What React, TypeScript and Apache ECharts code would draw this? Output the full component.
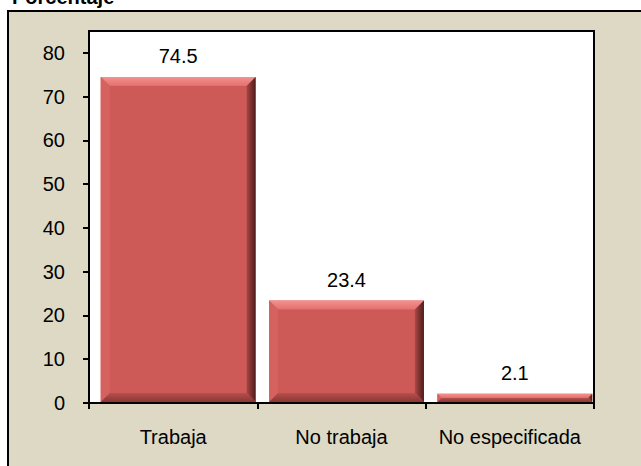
import React, { useEffect, useRef } from "react";
import * as echarts from "echarts";

const categories = ["Trabaja", "No trabaja", "No especificada"];
const values = [74.5, 23.4, 2.1];
const yTicks = [0, 10, 20, 30, 40, 50, 60, 70, 80];
const titleText = "Porcentaje";

const FONT = "'Liberation Sans', Arial, sans-serif";

export default function App() {
  const ref = useRef<HTMLDivElement>(null);
  useEffect(() => {
    if (!ref.current) return;
    const chart = echarts.init(ref.current, null, { renderer: "svg" });
    const renderItem = (params: any, api: any) => {
      const i = api.value(0);
      const v = api.value(1);
      const top = api.coord([i, v]);
      const base = api.coord([i, 0]);
      const w = api.size([1, 0])[0] * 0.92;
      const cx = top[0] + 5;
      const x0 = cx - w / 2;
      const x1 = cx + w / 2;
      const y0 = top[1];
      const y1 = base[1] - 1;
      const b = Math.min(9, (y1 - y0) / 2);
      return {
        type: "group",
        children: [
          { type: "rect", shape: { x: x0, y: y0, width: w, height: y1 - y0 }, style: { fill: "#CD5A57" } },
          {
            type: "polygon",
            shape: { points: [[x0, y0], [x1, y0], [x1 - b, y0 + b], [x0 + b, y0 + b]] },
            style: {
              fill: new echarts.graphic.LinearGradient(0, 0, 0, 1, [
                { offset: 0, color: "#F5918E" },
                { offset: 1, color: "#E2706D" },
              ]),
            },
          },
          {
            type: "polygon",
            shape: { points: [[x0, y0], [x0 + b, y0 + b], [x0 + b, y1 - b], [x0, y1]] },
            style: { fill: "#D6625F" },
          },
          {
            type: "polygon",
            shape: { points: [[x1, y0], [x1, y1], [x1 - b, y1 - b], [x1 - b, y0 + b]] },
            style: {
              fill: new echarts.graphic.LinearGradient(0, 0, 1, 0, [
                { offset: 0, color: "#A94744" },
                { offset: 1, color: "#4E1C1B" },
              ]),
            },
          },
          {
            type: "polygon",
            shape: { points: [[x0, y1], [x1, y1], [x1 - b, y1 - b], [x0 + b, y1 - b]] },
            style: {
              fill: new echarts.graphic.LinearGradient(0, 0, 0, 1, [
                { offset: 0, color: "#B5504D" },
                { offset: 1, color: "#8A3533" },
              ]),
            },
          },
          {
            type: "text",
            style: {
              text: String(v),
              x: cx,
              y: y0 - 21,
              align: "center",
              verticalAlign: "middle",
              fill: "#000",
              font: `20px ${FONT}`,
            },
          },
        ],
      };
    };
    chart.setOption({
      animation: false,
      backgroundColor: "#fff",
      graphic: [
        {
          type: "rect",
          shape: { x: 8, y: 11, width: 700, height: 600 },
          style: { fill: "#DDD9C4", stroke: "#000", lineWidth: 2 },
          z: -10,
        },
        {
          type: "text",
          x: 12,
          y: 7,
          style: {
            text: titleText,
            font: `bold 20px ${FONT}`,
            fill: "#000",
            verticalAlign: "bottom",
          },
          z: -20,
        },
      ],
      grid: {
        left: 89,
        right: 47,
        top: 31,
        bottom: 63,
        show: true,
        backgroundColor: "#fff",
        borderColor: "#000",
        borderWidth: 2,
      },
      xAxis: {
        type: "category",
        data: categories,
        axisLine: { lineStyle: { color: "#000", width: 2 } },
        axisTick: { show: true, alignWithLabel: false, length: 6, lineStyle: { color: "#000", width: 2 } },
        axisLabel: { color: "#000", fontSize: 20, fontFamily: FONT, margin: 24, interval: 0 },
        splitLine: { show: false },
      },
      yAxis: {
        type: "value",
        min: 0,
        max: 85,
        interval: 10,
        axisLine: { show: true, lineStyle: { color: "#000", width: 2 } },
        axisTick: { show: true, length: 6, customValues: yTicks, lineStyle: { color: "#000", width: 2 } },
        axisLabel: { color: "#000", fontSize: 20, fontFamily: FONT, margin: 24, customValues: yTicks },
        splitLine: { show: false },
      },
      series: [
        {
          type: "custom",
          renderItem,
          data: values.map((v, i) => [i, v]),
          clip: false,
          z: 5,
        },
      ],
    });
    return () => chart.dispose();
  }, []);
  return (
    <div
      ref={ref}
      style={{ position: "fixed", left: 0, top: 0, width: 641, height: 466 }}
    />
  );
}
